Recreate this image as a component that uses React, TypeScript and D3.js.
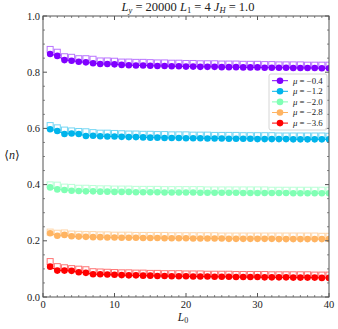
import * as d3 from 'd3'

// L0 values (x)
const L0 = d3.range(1, 41)

const MUS = ['-0.4', '-1.2', '-2.0', '-2.8', '-3.6']
const COLORS = ['#8000ff', '#00b4eb', '#80ffb4', '#ffb462', '#ff0000']

// filled circles (connected by line)
const circM04 = [0.865,0.858,0.843,0.841,0.837,0.835,0.832,0.829,0.829,0.828,0.826,0.825,0.824,0.824,0.823,0.822,0.822,0.821,0.821,0.820,0.820,0.819,0.819,0.819,0.818,0.818,0.818,0.817,0.817,0.817,0.816,0.816,0.816,0.816,0.815,0.815,0.815,0.815,0.814,0.814]
const circM12 = [0.597,0.591,0.580,0.582,0.580,0.573,0.574,0.572,0.571,0.571,0.570,0.569,0.569,0.568,0.567,0.567,0.566,0.566,0.566,0.565,0.565,0.565,0.564,0.564,0.564,0.563,0.563,0.563,0.563,0.562,0.562,0.562,0.562,0.562,0.561,0.561,0.561,0.561,0.561,0.561]
const circM20 = [0.390,0.383,0.381,0.378,0.377,0.376,0.376,0.375,0.375,0.374,0.374,0.374,0.373,0.373,0.373,0.373,0.372,0.372,0.372,0.372,0.372,0.371,0.371,0.371,0.371,0.371,0.371,0.370,0.370,0.370,0.370,0.370,0.370,0.370,0.369,0.369,0.369,0.369,0.369,0.369]
const circM28 = [0.227,0.218,0.221,0.216,0.215,0.214,0.213,0.213,0.212,0.212,0.211,0.211,0.211,0.210,0.210,0.210,0.209,0.209,0.209,0.209,0.208,0.208,0.208,0.208,0.208,0.207,0.207,0.207,0.207,0.207,0.207,0.207,0.206,0.206,0.206,0.206,0.206,0.206,0.206,0.206]
const circM36 = [0.108,0.094,0.094,0.093,0.088,0.086,0.081,0.081,0.080,0.079,0.078,0.077,0.077,0.076,0.076,0.075,0.075,0.074,0.074,0.074,0.073,0.073,0.073,0.072,0.072,0.072,0.071,0.071,0.071,0.071,0.070,0.070,0.070,0.070,0.069,0.069,0.069,0.069,0.068,0.068]

// open squares
const sqM04 = [0.881,0.871,0.855,0.853,0.848,0.848,0.846,0.840,0.840,0.839,0.836,0.836,0.835,0.835,0.834,0.833,0.833,0.832,0.832,0.831,0.831,0.830,0.830,0.830,0.829,0.829,0.829,0.828,0.828,0.828,0.827,0.827,0.826,0.826,0.826,0.826,0.825,0.825,0.825,0.825]
const sqM12 = [0.610,0.602,0.594,0.591,0.589,0.588,0.585,0.583,0.583,0.582,0.581,0.580,0.580,0.579,0.579,0.578,0.578,0.577,0.577,0.577,0.576,0.576,0.576,0.575,0.575,0.575,0.575,0.574,0.574,0.574,0.574,0.574,0.573,0.573,0.573,0.573,0.573,0.573,0.573,0.572]
const sqM20 = [0.399,0.398,0.391,0.390,0.387,0.387,0.386,0.385,0.385,0.384,0.384,0.384,0.383,0.383,0.383,0.383,0.382,0.382,0.382,0.382,0.382,0.382,0.381,0.381,0.381,0.381,0.381,0.381,0.381,0.381,0.381,0.380,0.380,0.380,0.380,0.380,0.380,0.380,0.380,0.380]
const sqM28 = [0.231,0.227,0.228,0.224,0.223,0.222,0.222,0.221,0.221,0.220,0.220,0.220,0.219,0.219,0.219,0.219,0.219,0.218,0.218,0.218,0.218,0.218,0.218,0.218,0.217,0.217,0.217,0.217,0.217,0.217,0.217,0.217,0.217,0.217,0.217,0.217,0.217,0.217,0.216,0.216]
const sqM36 = [0.126,0.108,0.104,0.101,0.099,0.097,0.090,0.089,0.088,0.087,0.086,0.086,0.085,0.085,0.084,0.084,0.083,0.083,0.083,0.082,0.082,0.082,0.081,0.081,0.081,0.081,0.080,0.080,0.080,0.080,0.080,0.079,0.079,0.079,0.079,0.079,0.079,0.078,0.078,0.078]

const CIRCLES = [circM04, circM12, circM20, circM28, circM36]
const SQUARES = [sqM04, sqM12, sqM20, sqM28, sqM36]

const xTicks = [0, 10, 20, 30, 40]
const yTicks = [0, 0.2, 0.4, 0.6, 0.8, 1.0]

const W = 338, H = 329
const left = 43, right = 329, top = 16, bottom = 297

export default function App() {
  const x = d3.scaleLinear().domain([0, 40]).range([left, right])
  const y = d3.scaleLinear().domain([0, 1]).range([bottom, top])
  const line = d3.line<number>().x((_, i) => x(L0[i])).y(d => y(d))

  const xMinor = d3.range(0, 41, 1).filter(v => v % 10 !== 0)
  const yMinor = d3.range(0, 1.001, 0.05).filter(v => Math.abs(v * 5 - Math.round(v * 5)) > 1e-6)
  const axisCol = '#555'
  const font = '"Liberation Serif", "DejaVu Serif", serif'

  return (
    <svg width={W} height={H} style={{ position: 'absolute', left: 0, top: 0 }}>
      <defs>
        <clipPath id="plot">
          <rect x={left} y={top} width={right - left} height={bottom - top} />
        </clipPath>
      </defs>
      <rect width={W} height={H} fill="white" />

      <g clipPath="url(#plot)">
        {SQUARES.map((s, k) => (
          <g key={'s' + k}>
            {s.map((v, i) => (
              <rect key={i} x={x(L0[i]) - 3} y={y(v) - 3} width={6} height={6}
                fill="none" stroke={COLORS[k]} strokeOpacity={0.55} strokeWidth={1} />
            ))}
          </g>
        ))}
        {CIRCLES.map((c, k) => (
          <g key={'c' + k}>
            <path d={line(c) ?? ''} fill="none" stroke={COLORS[k]} strokeWidth={1} />
            {c.map((v, i) => (
              <circle key={i} cx={x(L0[i])} cy={y(v)} r={3.3} fill={COLORS[k]} />
            ))}
          </g>
        ))}
      </g>

      {/* frame */}
      <rect x={left} y={top} width={right - left} height={bottom - top} fill="none" stroke={axisCol} strokeWidth={1} />

      {/* x ticks */}
      {xTicks.map(t => (
        <g key={'xt' + t}>
          <line x1={x(t)} x2={x(t)} y1={bottom} y2={bottom - 4} stroke={axisCol} />
          <line x1={x(t)} x2={x(t)} y1={top} y2={top + 4} stroke={axisCol} />
          <text x={x(t)} y={bottom + 11} fontSize={10.5} textAnchor="middle" fontFamily={font} fill="#222">{t}</text>
        </g>
      ))}
      {xMinor.map(t => (
        <g key={'xm' + t}>
          <line x1={x(t)} x2={x(t)} y1={bottom} y2={bottom - 2} stroke={axisCol} strokeWidth={0.7} />
          <line x1={x(t)} x2={x(t)} y1={top} y2={top + 2} stroke={axisCol} strokeWidth={0.7} />
        </g>
      ))}

      {/* y ticks */}
      {yTicks.map(t => (
        <g key={'yt' + t}>
          <line x1={left} x2={left + 4} y1={y(t)} y2={y(t)} stroke={axisCol} />
          <line x1={right} x2={right - 4} y1={y(t)} y2={y(t)} stroke={axisCol} />
          <text x={left - 3} y={y(t) + 3.5} fontSize={10.5} textAnchor="end" fontFamily={font} fill="#222">{t.toFixed(1)}</text>
        </g>
      ))}
      {yMinor.map(t => (
        <g key={'ym' + t}>
          <line x1={left} x2={left + 2} y1={y(t)} y2={y(t)} stroke={axisCol} strokeWidth={0.7} />
          <line x1={right} x2={right - 2} y1={y(t)} y2={y(t)} stroke={axisCol} strokeWidth={0.7} />
        </g>
      ))}

      {/* labels */}
      <text x={(left + right) / 2 + 2} y={11} fontSize={12.5} textAnchor="middle" fontFamily={font} fill="#222">
        <tspan fontStyle="italic">L</tspan><tspan fontStyle="italic" fontSize={8.5} dy={2}>y</tspan>
        <tspan dy={-2}> = 20000 </tspan>
        <tspan fontStyle="italic">L</tspan><tspan fontSize={8.5} dy={2}>1</tspan>
        <tspan dy={-2}> = 4 </tspan>
        <tspan fontStyle="italic">J</tspan><tspan fontStyle="italic" fontSize={8.5} dy={2}>H</tspan>
        <tspan dy={-2}> = 1.0</tspan>
      </text>
      <text x={(left + right) / 2 - 3} y={321} fontSize={11.5} textAnchor="middle" fontFamily={font} fill="#222">
        <tspan fontStyle="italic">L</tspan><tspan fontSize={8} dy={2}>0</tspan>
      </text>
      <text x={12} y={159} fontSize={12} textAnchor="middle" fontFamily={font} fill="#222">
        ⟨<tspan fontStyle="italic">n</tspan>⟩
      </text>

      {/* legend */}
      <g>
        <rect x={269} y={74} width={58} height={56} rx={2} fill="white" fillOpacity={0.85} stroke="#ccc" strokeWidth={0.8} />
        {MUS.map((m, k) => {
          const ly = 80.7 + k * 10.6
          return (
            <g key={'lg' + k}>
              <line x1={272} x2={288} y1={ly} y2={ly} stroke={COLORS[k]} strokeWidth={1} />
              <circle cx={280} cy={ly} r={3.3} fill={COLORS[k]} />
              <text x={293} y={ly + 2.8} fontSize={8.8} fontFamily={font} fill="#222">
                <tspan fontStyle="italic">μ</tspan> = −{m.slice(1)}
              </text>
            </g>
          )
        })}
      </g>
    </svg>
  )
}
